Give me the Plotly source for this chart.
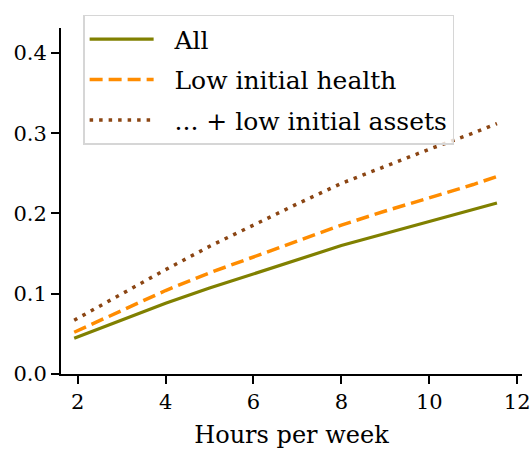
import plotly.graph_objects as go

# Hours per week at which each series was evaluated
hours = [1.92, 3.0, 4.0, 5.0, 6.0, 7.0, 8.0, 9.0, 10.0, 11.0, 11.54]

# Outcome by hours worked for each group
all_vals = [0.0445, 0.067, 0.088, 0.107, 0.125, 0.143, 0.160, 0.175, 0.190, 0.205, 0.213]
low_health = [0.052, 0.079, 0.104, 0.126, 0.146, 0.166, 0.1855, 0.203, 0.219, 0.236, 0.246]
low_assets = [0.067, 0.100, 0.130, 0.159, 0.186, 0.212, 0.2375, 0.259, 0.280, 0.300, 0.312]

series_names = ["All", "Low initial health", "... + low initial assets"]
x_ticks = [2, 4, 6, 8, 10, 12]
y_ticks = [0.0, 0.1, 0.2, 0.3, 0.4]

FONT = "'DejaVu Serif', 'Liberation Serif', serif"
PAD = "\u00a0\u00a0"  # a little space between legend swatch and label

fig = go.Figure()
styles = [
    dict(color="#808000", width=3.2, dash="solid"),
    dict(color="#ff8c00", width=3.5, dash="13px,6px"),
    dict(color="#8b4513", width=3.5, dash="3.5px,6px"),
]
for i, (name, vals, st) in enumerate(zip(series_names, [all_vals, low_health, low_assets], styles)):
    fig.add_trace(go.Scatter(
        x=hours, y=vals, mode="lines", name=PAD + name,
        line=st, legendgroup=f"g{i}",
    ))

axis_common = dict(
    showgrid=False, zeroline=False, showline=True, linecolor="black", linewidth=2,
    ticks="outside", ticklen=8, tickwidth=1.5, tickcolor="black",
    tickfont=dict(family=FONT, size=21, color="black"),
    ticklabeloverflow="allow", automargin=False,
)

fig.update_layout(
    width=530, height=449,
    margin=dict(l=61, r=8, t=28, b=75),
    paper_bgcolor="white", plot_bgcolor="white",
    font=dict(family=FONT, color="black"),
    showlegend=True,
    legend=dict(
        x=0.048, y=1.038, xanchor="left", yanchor="top",
        bgcolor="rgba(255,255,255,0.8)", bordercolor="#d6d6d6", borderwidth=1.5,
        font=dict(family=FONT, size=25, color="black"),
        tracegroupgap=5, traceorder="grouped", itemwidth=64,
    ),
    xaxis=dict(
        range=[1.62, 12.11], tickvals=x_ticks, ticktext=[str(v) for v in x_ticks],
        title=dict(text="Hours per week", font=dict(family=FONT, size=24), standoff=14),
        **axis_common,
    ),
    yaxis=dict(
        range=[0, 0.431], tickvals=y_ticks, ticktext=[f"{v:.1f}" for v in y_ticks],
        **axis_common,
    ),
)

fig.write_html("out.html")
